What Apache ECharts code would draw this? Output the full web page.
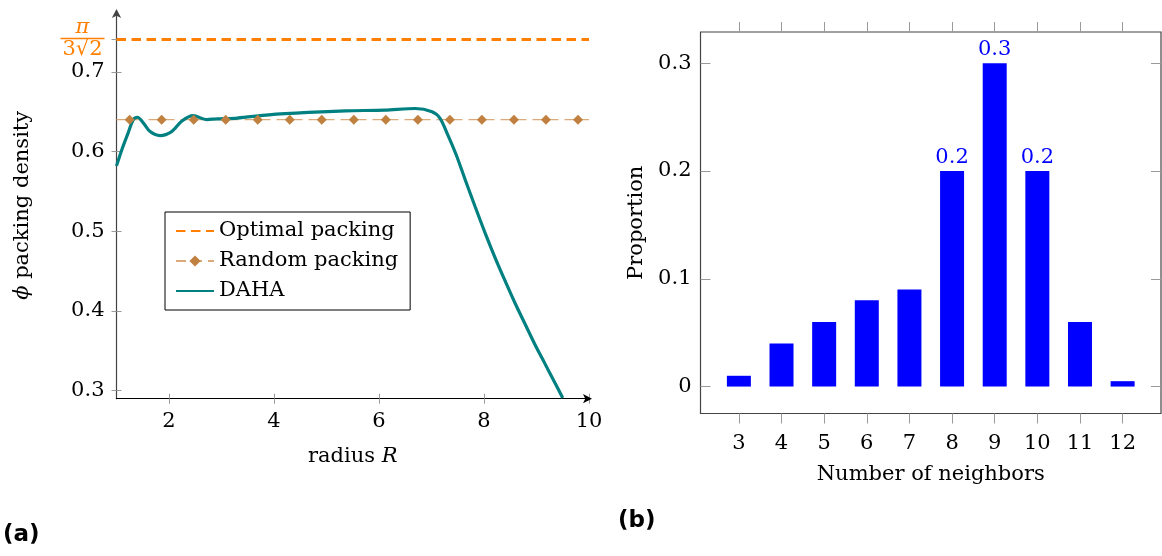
<!DOCTYPE html>
<html>
<head>
<meta charset="utf-8">
<script src="https://cdn.jsdelivr.net/npm/echarts@6/dist/echarts.min.js"></script>
<style>
html,body{margin:0;padding:0;background:#fff;}
#chart{width:1162px;height:556px;}
</style>
</head>
<body>
<div id="chart"></div>
<script>
// ---- Panel (a) data ----
const radiusDAHA  = [1.0, 1.1, 1.22, 1.32, 1.40, 1.51, 1.64, 1.83, 2.05, 2.24, 2.46, 2.72, 2.91, 3.3, 3.9, 4.65, 5.37, 6.11, 6.69, 7.01, 7.16, 7.31, 7.47, 7.64, 7.83, 8.02, 8.21, 8.40, 8.59, 8.78, 8.97, 9.16, 9.35, 9.50];
const densityDAHA = [0.582, 0.602, 0.623, 0.640, 0.643, 0.636, 0.625, 0.620, 0.625, 0.638, 0.645, 0.640, 0.641, 0.642, 0.646, 0.649, 0.651, 0.652, 0.654, 0.650, 0.642, 0.621, 0.596, 0.565, 0.531, 0.498, 0.467, 0.438, 0.410, 0.384, 0.358, 0.334, 0.310, 0.291];
const randomMarkX = [1.25, 1.86, 2.47, 3.08, 3.69, 4.30, 4.91, 5.52, 6.13, 6.74, 7.35, 7.96, 8.57, 9.18, 9.79];
const RANDOM_DENSITY = 0.64;
const OPTIMAL_DENSITY = 0.7405; // pi / (3 sqrt 2)
const xRangeA = [1, 10];
const xTicksA = [2, 4, 6, 8, 10];
const yTicksA = [0.3, 0.4, 0.5, 0.6, 0.7, OPTIMAL_DENSITY];

// ---- Panel (b) data ----
const neighbors   = [3, 4, 5, 6, 7, 8, 9, 10, 11, 12];
const proportions = [0.01, 0.04, 0.06, 0.08, 0.09, 0.2, 0.3, 0.2, 0.06, 0.005];
const labelledNeighbors = [8, 9, 10];
const yTicksB = [0, 0.1, 0.2, 0.3];

const SERIF = 'DejaVu Serif';
const FS = 21;
const TICK_GRAY = '#9a9a9a';

const chart = echarts.init(document.getElementById('chart'), null, {renderer: 'canvas'});

const randomData = [{value: [xRangeA[0], RANDOM_DENSITY], symbol: 'none'}]
  .concat(randomMarkX.map(x => [x, RANDOM_DENSITY]))
  .concat([{value: [xRangeA[1], RANDOM_DENSITY], symbol: 'none'}]);

const barData = neighbors.map((n, i) => {
  const item = {value: [n, proportions[i]]};
  if (labelledNeighbors.indexOf(n) >= 0) item.label = {show: true};
  return item;
});

const hiddenSymbol = {color: 'rgba(0,0,0,0)', borderWidth: 0, opacity: 0};

const option = {
  animation: false,
  textStyle: {fontFamily: SERIF},
  grid: [
    {left: 116.5, right: 573, top: 12, bottom: 157.3},
    {left: 700.5, right: 1, top: 32, bottom: 142.5, show: true, borderColor: '#444', borderWidth: 1.2, backgroundColor: 'transparent'}
  ],
  xAxis: [
    { // a: main bottom
      gridIndex: 0, type: 'value', min: xRangeA[0], max: xRangeA[1], position: 'bottom',
      axisLine: {show: true, onZero: false, lineStyle: {color: '#000', width: 1.2}, symbol: ['none', 'arrow'], symbolSize: [7, 9], symbolOffset: [0, 3]},
      axisTick: {show: true, inside: false, length: 5, lineStyle: {color: TICK_GRAY}, customValues: xTicksA},
      axisLabel: {show: true, margin: 12, color: '#000', fontFamily: SERIF, fontSize: FS, customValues: xTicksA},
      splitLine: {show: false},
      name: 'radius {i|R}', nameLocation: 'middle', nameGap: 47,
      nameTextStyle: {color: '#000', fontFamily: SERIF, fontSize: FS, rich: {i: {fontFamily: SERIF, fontStyle: 'italic', fontSize: FS, color: '#000'}}}
    },
    { // a: inside ticks
      gridIndex: 0, type: 'value', min: xRangeA[0], max: xRangeA[1], position: 'bottom',
      axisLine: {show: false, onZero: false},
      axisTick: {show: true, inside: true, length: 5, lineStyle: {color: TICK_GRAY}, customValues: xTicksA},
      axisLabel: {show: false}, splitLine: {show: false}
    },
    { // b: bottom
      gridIndex: 1, type: 'value', min: 2.1, max: 12.9, position: 'bottom',
      axisLine: {show: false, onZero: false},
      axisTick: {show: true, inside: false, length: 10, lineStyle: {color: TICK_GRAY}, customValues: neighbors},
      axisLabel: {show: true, margin: 20, color: '#000', fontFamily: SERIF, fontSize: FS, customValues: neighbors},
      splitLine: {show: false},
      name: 'Number of neighbors', nameLocation: 'middle', nameGap: 51,
      nameTextStyle: {color: '#000', fontFamily: SERIF, fontSize: FS}
    },
    { // b: top
      gridIndex: 1, type: 'value', min: 2.1, max: 12.9, position: 'top',
      axisLine: {show: false, onZero: false},
      axisTick: {show: true, inside: false, length: 10, lineStyle: {color: TICK_GRAY}, customValues: neighbors},
      axisLabel: {show: false}, splitLine: {show: false}
    }
  ],
  yAxis: [
    { // a: main left
      gridIndex: 0, type: 'value', min: 0.29, max: 0.775, position: 'left',
      axisLine: {show: true, onZero: false, lineStyle: {color: '#444', width: 1.2}, symbol: ['none', 'arrow'], symbolSize: [7, 9], symbolOffset: [0, 3]},
      axisTick: {show: true, inside: false, length: 5, lineStyle: {color: TICK_GRAY}, customValues: yTicksA},
      axisLabel: {
        show: true, margin: 12, color: '#000', fontFamily: SERIF, fontSize: FS, lineHeight: 16, customValues: yTicksA,
        showMaxLabel: true, showMinLabel: true, hideOverlap: false,
        formatter: v => Math.abs(v - OPTIMAL_DENSITY) < 1e-6 ? '{num|π}\n{bar| }\n{den|3√2}' : v.toFixed(1),
        rich: {
          num: {fontFamily: SERIF, fontStyle: 'italic', fontSize: FS, color: '#ff8000', align: 'center', lineHeight: 18},
          bar: {width: 44, height: 1.3, fontSize: 1, lineHeight: 3, backgroundColor: '#ff8000', align: 'center'},
          den: {fontFamily: SERIF, fontSize: FS, color: '#ff8000', align: 'center', lineHeight: 20}
        }
      },
      splitLine: {show: false},
      name: '{i|ϕ} packing density', nameLocation: 'middle', nameGap: 83,
      nameTextStyle: {color: '#000', fontFamily: SERIF, fontSize: FS, rich: {i: {fontFamily: SERIF, fontStyle: 'italic', fontSize: FS, color: '#000'}}}
    },
    { // a: inside ticks
      gridIndex: 0, type: 'value', min: 0.29, max: 0.775, position: 'left',
      axisLine: {show: false, onZero: false},
      axisTick: {show: true, inside: true, length: 5, lineStyle: {color: TICK_GRAY}, customValues: yTicksA},
      axisLabel: {show: false}, splitLine: {show: false}
    },
    { // b: left
      gridIndex: 1, type: 'value', min: -0.025, max: 0.329, position: 'left',
      axisLine: {show: false, onZero: false},
      axisTick: {show: true, inside: true, length: 10, lineStyle: {color: TICK_GRAY}, customValues: yTicksB},
      axisLabel: {show: true, margin: 9, color: '#000', fontFamily: SERIF, fontSize: FS, customValues: yTicksB, formatter: v => String(+v.toFixed(1))},
      splitLine: {show: false},
      name: 'Proportion', nameLocation: 'middle', nameGap: 53,
      nameTextStyle: {color: '#000', fontFamily: SERIF, fontSize: FS}
    },
    { // b: right
      gridIndex: 1, type: 'value', min: -0.025, max: 0.329, position: 'right',
      axisLine: {show: false, onZero: false},
      axisTick: {show: true, inside: true, length: 10, lineStyle: {color: TICK_GRAY}, customValues: yTicksB},
      axisLabel: {show: false}, splitLine: {show: false}
    }
  ],
  legend: {
    left: 165, top: 212, orient: 'vertical',
    itemWidth: 38, itemHeight: 14, itemGap: 8,
    padding: [8, 12, 8, 10],
    borderColor: '#000', borderWidth: 1, backgroundColor: '#fff',
    textStyle: {fontFamily: SERIF, fontSize: FS, color: '#000', lineHeight: 22},
    data: [
      {name: 'Optimal packing', itemStyle: hiddenSymbol},
      {name: 'Random packing'},
      {name: 'DAHA', itemStyle: hiddenSymbol}
    ]
  },
  series: [
    {
      name: 'Optimal packing', type: 'line', xAxisIndex: 0, yAxisIndex: 0,
      data: [[xRangeA[0], OPTIMAL_DENSITY], [xRangeA[1], OPTIMAL_DENSITY]],
      symbol: 'none', color: '#ff8000',
      lineStyle: {color: '#ff8000', width: 3.2, type: [9.5, 5.5]}
    },
    {
      name: 'Random packing', type: 'line', xAxisIndex: 0, yAxisIndex: 0,
      data: randomData,
      symbol: 'diamond', symbolSize: 10, showSymbol: true, color: '#c0803f',
      itemStyle: {color: '#c0803f'},
      lineStyle: {color: '#dcaa78', width: 1.2, type: [10, 6]}
    },
    {
      name: 'DAHA', type: 'line', xAxisIndex: 0, yAxisIndex: 0,
      data: radiusDAHA.map((x, i) => [x, densityDAHA[i]]),
      symbol: 'none', smooth: 0.3, color: '#008080', clip: true,
      lineStyle: {color: '#008080', width: 3.2}
    },
    {
      name: 'Proportion', type: 'bar', xAxisIndex: 2, yAxisIndex: 2,
      data: barData, barWidth: 24,
      itemStyle: {color: '#0000ff'},
      label: {show: false, position: 'top', distance: 3, color: '#0000ff', fontFamily: SERIF, fontSize: FS,
        formatter: p => String(p.value[1])}
    }
  ],
  graphic: [
    {type: 'text', left: 3, top: 524, style: {text: '(a)', font: 'bold 23px "DejaVu Sans"', fill: '#000'}},
    {type: 'text', left: 618, top: 510, style: {text: '(b)', font: 'bold 23px "DejaVu Sans"', fill: '#000'}}
  ]
};
chart.setOption(option);
</script>
</body>
</html>
